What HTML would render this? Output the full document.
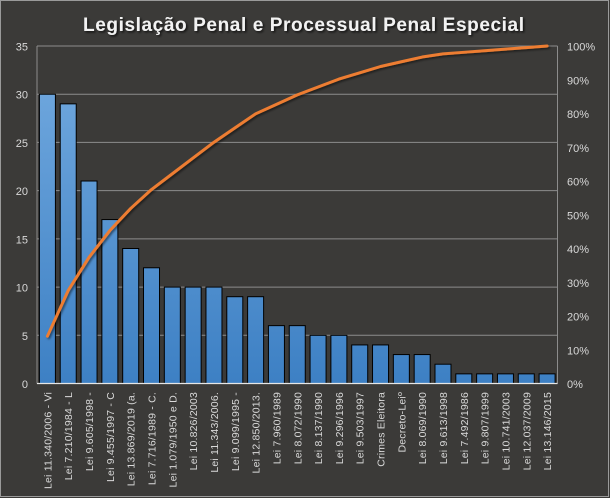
<!DOCTYPE html>
<html><head><meta charset="utf-8">
<style>
html,body{margin:0;padding:0;background:#3b3a38;}
svg{display:block;}
text{font-family:"Liberation Sans",sans-serif;}
</style></head>
<body>
<svg width="610" height="498" viewBox="0 0 610 498" xmlns="http://www.w3.org/2000/svg">
<defs>
<linearGradient id="bg" gradientUnits="userSpaceOnUse" x1="0" y1="46" x2="0" y2="383.5">
<stop offset="0" stop-color="#74abe0"/>
<stop offset="1" stop-color="#3d80c4"/>
</linearGradient>
<filter id="ts" x="-5%" y="-30%" width="110%" height="160%">
<feDropShadow dx="1.5" dy="1.5" stdDeviation="1" flood-color="#000" flood-opacity="0.7"/>
</filter>
<filter id="ls" x="-5%" y="-5%" width="110%" height="110%">
<feDropShadow dx="1.5" dy="1.5" stdDeviation="1" flood-color="#000" flood-opacity="0.5"/>
</filter>
</defs>
<rect x="0" y="0" width="610" height="498" fill="#3b3a38"/>
<rect x="0.5" y="0.5" width="608" height="496" fill="none" stroke="#9a9a9a" stroke-width="1"/>

<text x="303.5" y="31" font-size="19" font-weight="bold" fill="#f2f2f2" text-anchor="middle" textLength="441" lengthAdjust="spacing" filter="url(#ts)">Legislação  Penal e Processual  Penal Especial</text>

<!-- gridlines -->
<g stroke="#8c8c8c" stroke-width="1">
<line x1="37" y1="46" x2="557.5" y2="46"/>
<line x1="37" y1="94.2" x2="557.5" y2="94.2"/>
<line x1="37" y1="142.4" x2="557.5" y2="142.4"/>
<line x1="37" y1="190.6" x2="557.5" y2="190.6"/>
<line x1="37" y1="238.9" x2="557.5" y2="238.9"/>
<line x1="37" y1="287.1" x2="557.5" y2="287.1"/>
<line x1="37" y1="335.3" x2="557.5" y2="335.3"/>
<line x1="37" y1="46" x2="37" y2="383.5"/>
<line x1="557.5" y1="46" x2="557.5" y2="383.5"/>
</g>

<!-- bars -->
<g fill="url(#bg)" stroke="#000" stroke-width="1">
<rect x="39.41" y="94.21" width="16" height="289.29"/>
<rect x="60.23" y="103.85" width="16" height="279.65"/>
<rect x="81.05" y="181.0" width="16" height="202.5"/>
<rect x="101.87" y="219.57" width="16" height="163.93"/>
<rect x="122.69" y="248.5" width="16" height="135"/>
<rect x="143.51" y="267.78" width="16" height="115.72"/>
<rect x="164.33" y="287.07" width="16" height="96.43"/>
<rect x="185.15" y="287.07" width="16" height="96.43"/>
<rect x="205.97" y="287.07" width="16" height="96.43"/>
<rect x="226.79" y="296.71" width="16" height="86.79"/>
<rect x="247.61" y="296.71" width="16" height="86.79"/>
<rect x="268.43" y="325.64" width="16" height="57.86"/>
<rect x="289.25" y="325.64" width="16" height="57.86"/>
<rect x="310.07" y="335.29" width="16" height="48.21"/>
<rect x="330.89" y="335.29" width="16" height="48.21"/>
<rect x="351.71" y="344.93" width="16" height="38.57"/>
<rect x="372.53" y="344.93" width="16" height="38.57"/>
<rect x="393.35" y="354.57" width="16" height="28.93"/>
<rect x="414.17" y="354.57" width="16" height="28.93"/>
<rect x="434.99" y="364.21" width="16" height="19.29"/>
<rect x="455.81" y="373.86" width="16" height="9.64"/>
<rect x="476.63" y="373.86" width="16" height="9.64"/>
<rect x="497.45" y="373.86" width="16" height="9.64"/>
<rect x="518.27" y="373.86" width="16" height="9.64"/>
<rect x="539.09" y="373.86" width="16" height="9.64"/>
</g>

<line x1="37" y1="383.5" x2="557.5" y2="383.5" stroke="#e6e6e6" stroke-width="1.2"/>

<!-- cumulative line -->
<polyline fill="none" stroke="#ed7d31" stroke-width="3" stroke-linejoin="round" stroke-linecap="round" filter="url(#ls)"
points="47.41,336.19 68.23,290.45 89.05,257.33 109.87,230.52 130.69,208.44 151.51,189.52 172.33,173.75 193.15,157.97 213.97,142.20 234.79,128.01 255.61,113.82 276.43,104.35 297.25,94.89 318.07,87.00 338.89,79.12 359.71,72.81 380.53,66.50 401.35,61.77 422.17,57.04 442.99,53.89 463.81,52.31 484.63,50.73 505.45,49.15 526.27,47.58 547.09,46.0"/>

<!-- left axis labels -->
<g font-size="11" fill="#d9d9d9" text-anchor="end">
<text x="28" y="50.5">35</text>
<text x="28" y="98.7">30</text>
<text x="28" y="146.9">25</text>
<text x="28" y="195.1">20</text>
<text x="28" y="243.4">15</text>
<text x="28" y="291.6">10</text>
<text x="28" y="339.8">5</text>
<text x="28" y="388">0</text>
</g>

<!-- right axis labels -->
<g font-size="11" fill="#d9d9d9">
<text x="567" y="50.5">100%</text>
<text x="567" y="84.3">90%</text>
<text x="567" y="118">80%</text>
<text x="567" y="151.8">70%</text>
<text x="567" y="185.5">60%</text>
<text x="567" y="219.3">50%</text>
<text x="567" y="253">40%</text>
<text x="567" y="286.8">30%</text>
<text x="567" y="320.5">20%</text>
<text x="567" y="354.3">10%</text>
<text x="567" y="388">0%</text>
</g>

<!-- category labels -->
<g font-size="10.5" fill="#d9d9d9" text-anchor="end" letter-spacing="0.2">
<text transform="translate(51.4,392) rotate(-90)">Lei 11.340/2006 - Vi</text>
<text transform="translate(72.2,392) rotate(-90)">Lei 7.210/1984 - L</text>
<text transform="translate(93.1,392) rotate(-90)">Lei 9.605/1998 -</text>
<text transform="translate(113.9,392) rotate(-90)">Lei 9.455/1997 - C</text>
<text transform="translate(134.7,392) rotate(-90)">Lei 13.869/2019 (a.</text>
<text transform="translate(155.5,392) rotate(-90)">Lei 7.716/1989 - C.</text>
<text transform="translate(176.3,392) rotate(-90)">Lei 1.079/1950 e D.</text>
<text transform="translate(197.2,392) rotate(-90)">Lei 10.826/2003</text>
<text transform="translate(218,392) rotate(-90)">Lei 11.343/2006.</text>
<text transform="translate(238.8,392) rotate(-90)">Lei 9.099/1995 -</text>
<text transform="translate(259.6,392) rotate(-90)">Lei 12.850/2013.</text>
<text transform="translate(280.4,392) rotate(-90)">Lei 7.960/1989</text>
<text transform="translate(301.3,392) rotate(-90)">Lei 8.072/1990</text>
<text transform="translate(322.1,392) rotate(-90)">Lei 8.137/1990</text>
<text transform="translate(342.9,392) rotate(-90)">Lei 9.296/1996</text>
<text transform="translate(363.7,392) rotate(-90)">Lei 9.503/1997</text>
<text transform="translate(384.5,392) rotate(-90)">Crimes Eleitora</text>
<text transform="translate(405.4,392) rotate(-90)">Decreto-Leiº</text>
<text transform="translate(426.2,392) rotate(-90)">Lei 8.069/1990</text>
<text transform="translate(447,392) rotate(-90)">Lei 9.613/1998</text>
<text transform="translate(467.8,392) rotate(-90)">Lei 7.492/1986</text>
<text transform="translate(488.6,392) rotate(-90)">Lei 9.807/1999</text>
<text transform="translate(509.5,392) rotate(-90)">Lei 10.741/2003</text>
<text transform="translate(530.3,392) rotate(-90)">Lei 12.037/2009</text>
<text transform="translate(551.1,392) rotate(-90)">Lei 13.146/2015</text>
</g>
</svg>
</body></html>
